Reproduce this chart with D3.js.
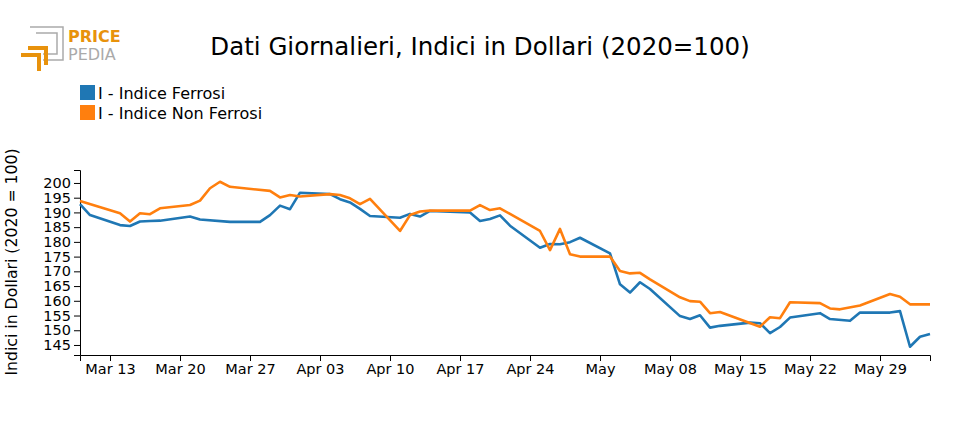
<!DOCTYPE html>
<html><head><meta charset="utf-8">
<script src="https://cdn.jsdelivr.net/npm/d3@7"></script>
<style>body{margin:0;background:#fff}text{font-family:"DejaVu Sans",sans-serif}</style>
</head><body><svg id="c" width="960" height="430"></svg>
<script>
const ferrosiDates = ["03-10","03-11","03-14","03-15","03-16","03-17","03-18","03-21","03-22","03-25","03-28","03-29","03-30","03-31","04-01","04-04","04-05","04-06","04-07","04-08","04-11","04-12","04-13","04-14","04-18","04-19","04-20","04-21","04-22","04-25","04-26","04-27","04-28","04-29","05-02","05-03","05-04","05-05","05-06","05-09","05-10","05-11","05-12","05-13","05-16","05-17","05-18","05-19","05-20","05-23","05-24","05-26","05-27","05-30","05-31","06-01","06-02","06-03"];
const ferrosiValues = [192.8,189.1,185.7,185.4,186.9,187.1,187.2,188.6,187.6,186.8,186.8,189.1,192.3,191.1,196.7,196.2,194.5,193.4,191.2,188.8,188.2,189.5,188.6,190.5,190.0,187.1,187.8,189.0,185.5,178.0,179.3,179.2,179.9,181.4,176.1,165.6,162.8,166.3,164.0,154.8,153.8,155.1,150.9,151.5,152.6,152.4,149.0,151.1,154.3,155.8,153.8,153.2,156.0,156.0,156.5,144.4,147.8,148.7];
const nonFerrosiDates = ["03-10","03-14","03-15","03-16","03-17","03-18","03-21","03-22","03-23","03-24","03-25","03-29","03-30","03-31","04-01","04-04","04-05","04-06","04-07","04-08","04-11","04-12","04-13","04-14","04-18","04-19","04-20","04-21","04-22","04-25","04-26","04-27","04-28","04-29","05-02","05-03","05-04","05-05","05-06","05-09","05-10","05-11","05-12","05-13","05-17","05-18","05-19","05-20","05-23","05-24","05-25","05-27","05-30","05-31","06-01","06-03"];
const nonFerrosiValues = [193.9,189.7,186.9,189.7,189.4,191.4,192.5,194.0,198.2,200.4,198.7,197.3,195.1,195.9,195.4,196.2,195.9,194.8,192.8,194.6,183.7,189.1,190.3,190.6,190.6,192.5,190.8,191.4,189.5,183.7,177.2,184.4,175.8,175.0,175.0,170.1,169.3,169.5,167.3,161.2,159.9,159.7,155.8,156.2,151.2,154.4,154.1,159.5,159.2,157.4,157.1,158.4,162.3,161.4,158.8,158.8];
const yTicks = [145,150,155,160,165,170,175,180,185,190,195,200];
const seriesNames = ["I - Indice Ferrosi","I - Indice Non Ferrosi"];
const colors = ["#1f77b4","#ff7f0e"];

const svg = d3.select("#c");
const p = d3.timeParse("%Y-%m-%d");
const toPts = (ds, vs) => ds.map((d,i)=>({d:p("2020-"+d), v:vs[i]}));
const s1 = toPts(ferrosiDates, ferrosiValues), s2 = toPts(nonFerrosiDates, nonFerrosiValues);

const x = d3.scaleTime().domain([new Date(2020,2,10), new Date(2020,5,3)]).range([80,930]);
const y = d3.scaleLinear().domain([141.6,204.4]).range([355,170]);

const fmt = d => d.getDate()===1 ? d3.timeFormat("%B")(d) : d3.timeFormat("%b %d")(d);
const xt = [];
for (let d = new Date(2020,2,13); d <= new Date(2020,5,2); d = d3.timeDay.offset(d,7)) xt.push(new Date(d));
xt[7] = new Date(2020,4,1);
svg.append("g").attr("transform","translate(0,355)")
  .call(d3.axisBottom(x).tickValues(xt).tickFormat(fmt).tickSizeOuter(6))
  .call(g=>g.selectAll("text").attr("font-size",14.5).attr("fill","#000"));
svg.append("g").attr("transform","translate(80,0)")
  .call(d3.axisLeft(y).tickValues(yTicks).tickSizeOuter(6))
  .call(g=>g.selectAll("text").attr("font-size",14.5).attr("fill","#000"));

const line = d3.line().x(d=>x(d.d)).y(d=>y(d.v));
[s1,s2].forEach((s,i)=>svg.append("path").datum(s).attr("d",line).attr("fill","none")
  .attr("stroke",colors[i]).attr("stroke-width",2.6).attr("stroke-linejoin","round"));
svg.append("text").attr("transform","translate(17,262) rotate(-90)").attr("text-anchor","middle")
  .attr("font-size",15.7).text("Indici in Dollari (2020 = 100)");
svg.append("text").attr("x",480).attr("y",55).attr("text-anchor","middle").attr("font-size",24.5)
  .text("Dati Giornalieri, Indici in Dollari (2020=100)");
seriesNames.forEach((n,i)=>{
  svg.append("rect").attr("x",80).attr("y",85+i*20).attr("width",15).attr("height",15).attr("fill",colors[i]);
  svg.append("text").attr("x",98).attr("y",99+i*20).attr("font-size",16).text(n);
});
const lg = svg.append("g");
lg.append("path").attr("d","M30,27 H63 V60 H43 M36,33 H57 V54 H43").attr("fill","none").attr("stroke","#aaa").attr("stroke-width",1.5);
lg.append("path").attr("d","M21,55 H39 V71 M28,48 H46 V65").attr("fill","none").attr("stroke","#e8920c").attr("stroke-width",4);
lg.append("text").attr("x",68).attr("y",42).attr("font-size",16).attr("font-weight","bold").attr("fill","#e8920c").text("PRICE");
lg.append("text").attr("x",68).attr("y",60).attr("font-size",16).attr("fill","#aaa").text("PEDIA");
</script></body></html>
